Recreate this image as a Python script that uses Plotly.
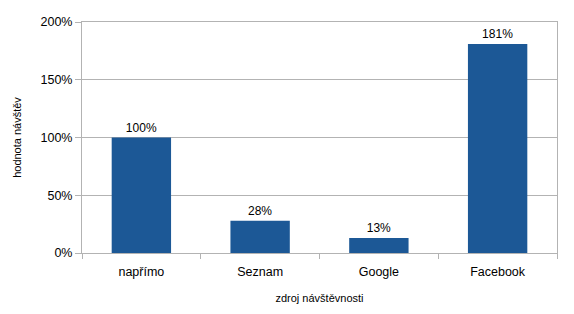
import plotly.graph_objects as go

categories = ["napřímo", "Seznam", "Google", "Facebook"]
values = [1.00, 0.28, 0.13, 1.81]
labels = ["100%", "28%", "13%", "181%"]

fig = go.Figure(go.Bar(
    x=categories, y=values, text=labels, textposition="outside",
    textfont=dict(size=12, color="#000000", family="Liberation Sans, Arial, sans-serif"),
    marker=dict(color="#1c5896", line=dict(width=0)),
    cliponaxis=False,
))

grid = "#b3b3b3"
fig.update_layout(
    width=574, height=314,
    margin=dict(l=82, r=17, t=22, b=61),
    paper_bgcolor="white", plot_bgcolor="white",
    bargap=0.5,
    showlegend=False,
    font=dict(family="Liberation Sans, Arial, sans-serif", color="#000000", size=12),
    xaxis=dict(
        title=dict(text="zdroj návštěvnosti", font=dict(size=11), standoff=16),
        showline=True, linecolor=grid, linewidth=1, mirror=True,
        ticks="outside", tickson="boundaries", ticklen=5, tickcolor=grid,
        tickfont=dict(size=12.5), ticklabelstandoff=7,
    ),
    yaxis=dict(
        title=dict(text="hodnota návštěv", font=dict(size=11), standoff=16),
        range=[0, 2], dtick=0.5, tickformat=".0%",
        showgrid=True, gridcolor=grid, gridwidth=1,
        showline=True, linecolor=grid, linewidth=1, mirror=True,
        ticks="outside", ticklen=6, tickcolor=grid,
        zeroline=False, tickfont=dict(size=12.5),
    ),
)

fig.write_html("out.html")
